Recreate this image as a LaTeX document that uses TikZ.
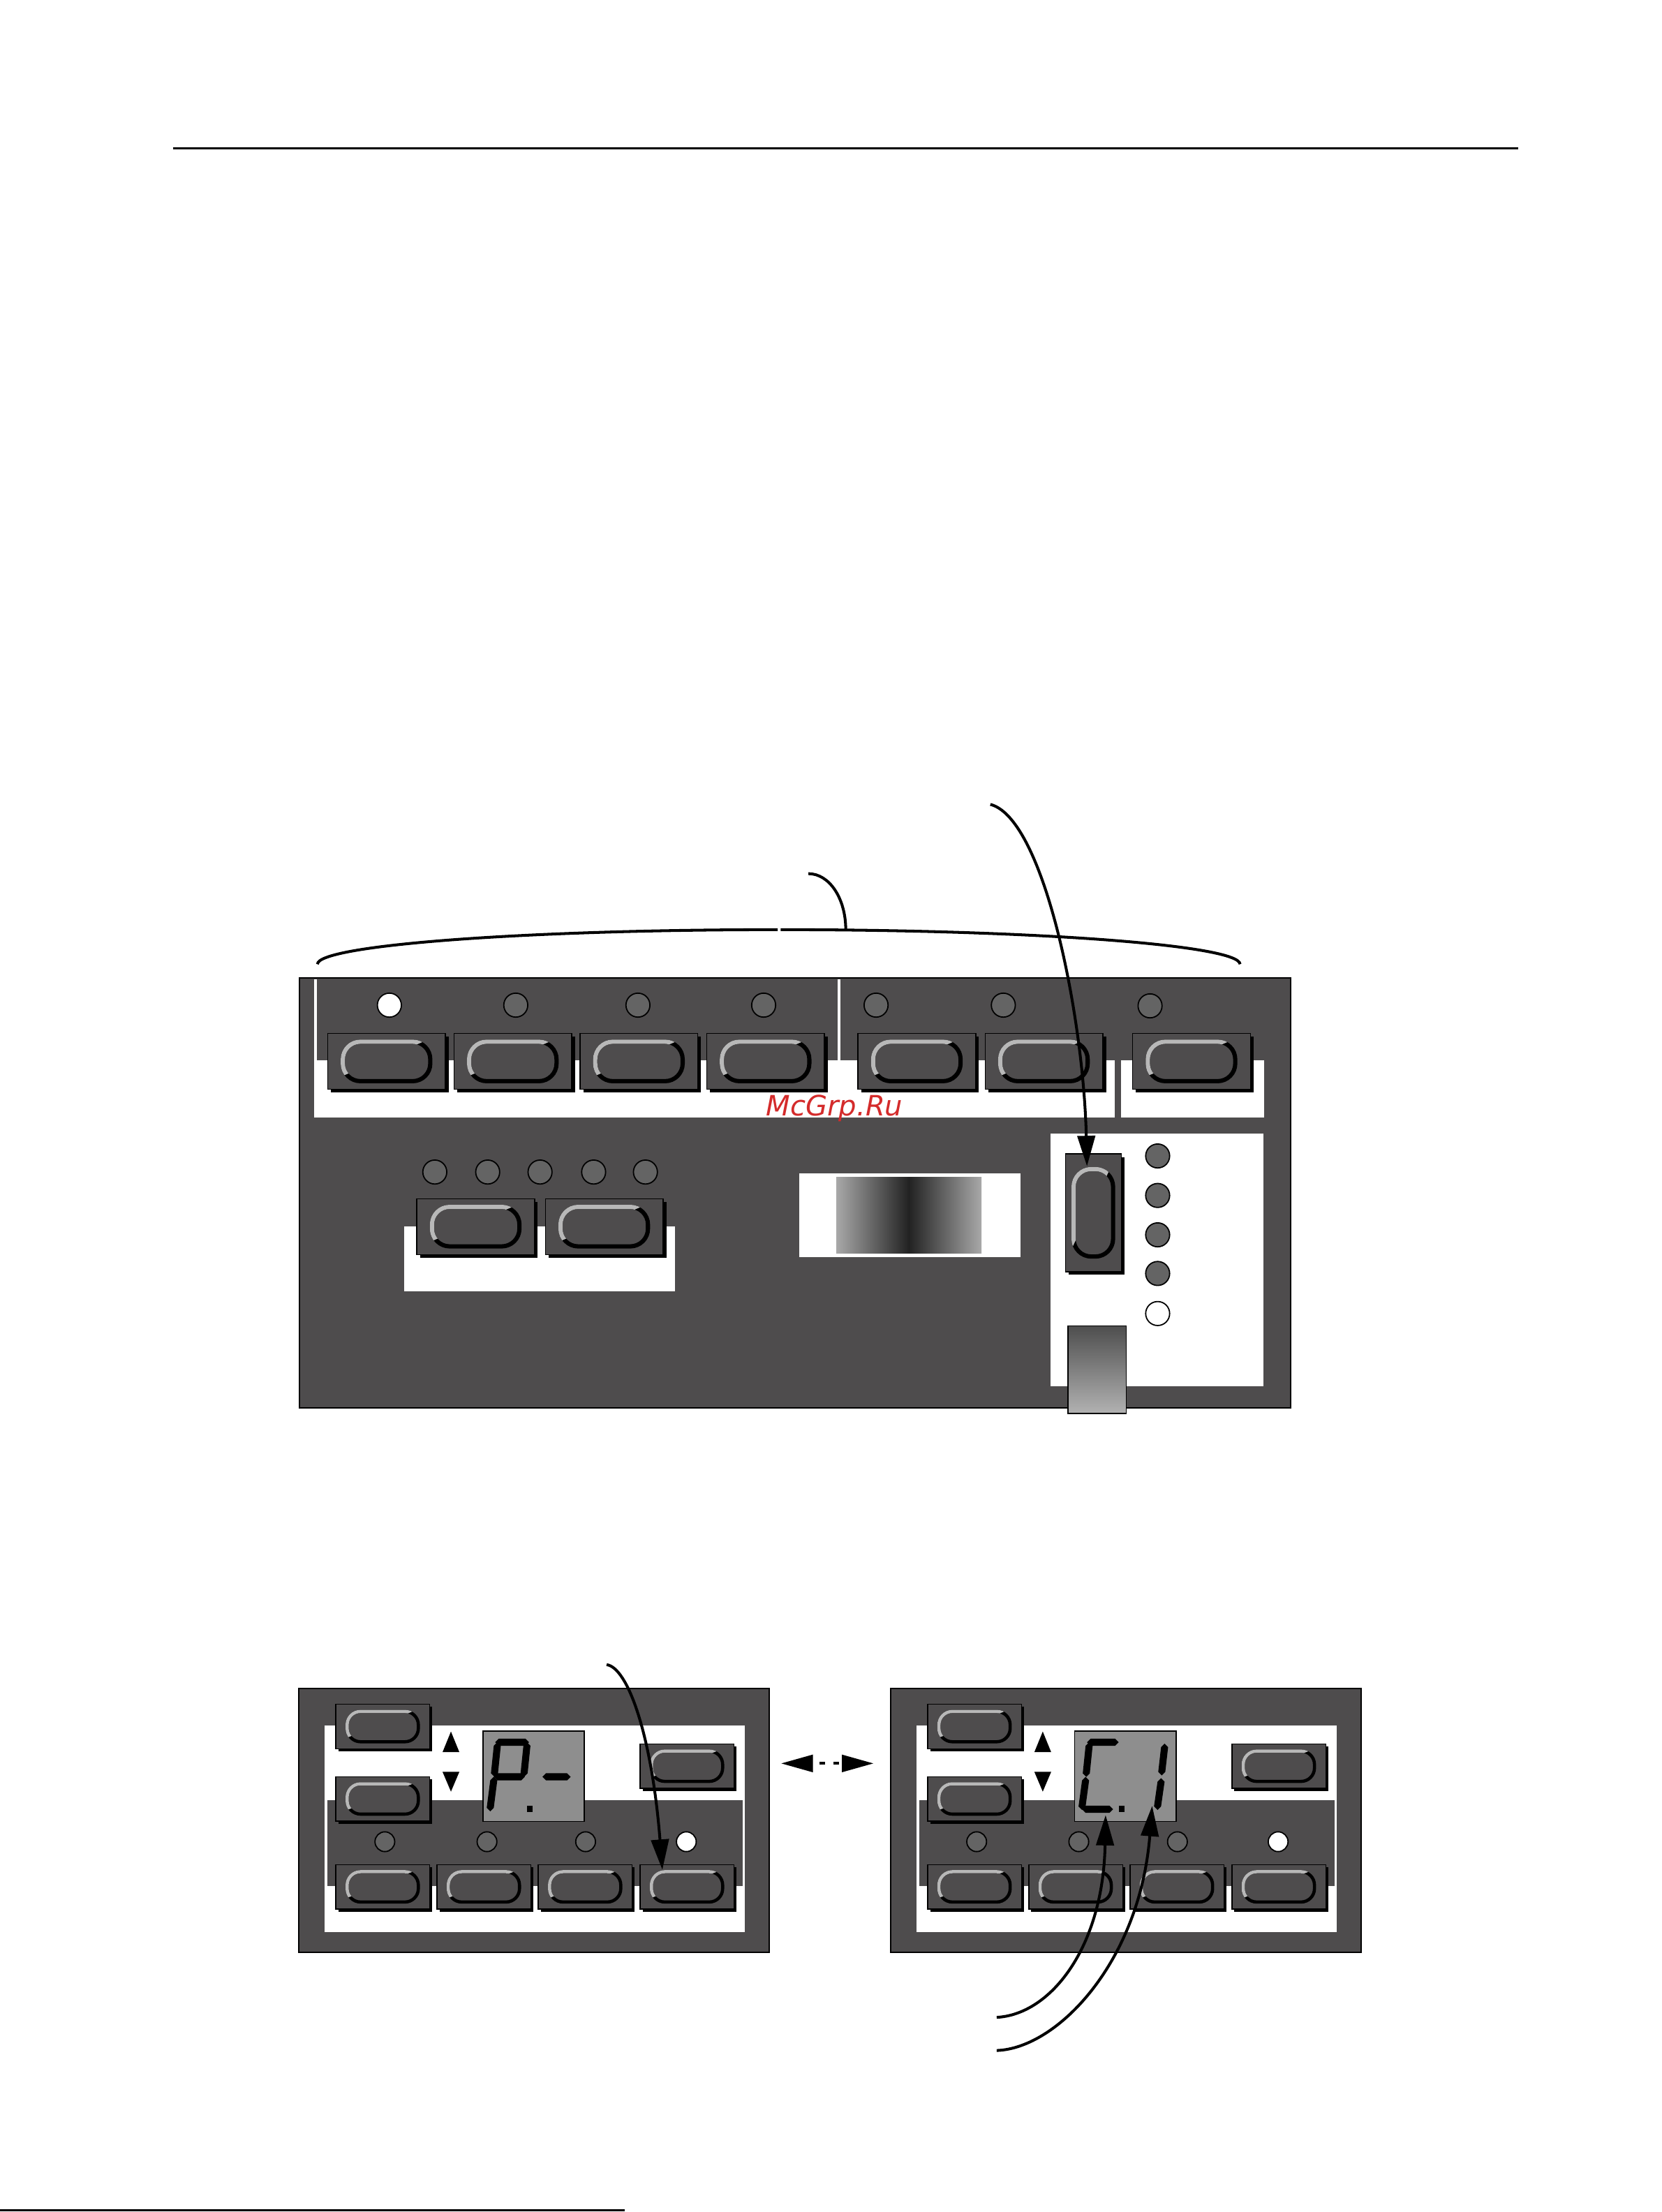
\documentclass[tikz,border=0pt]{standalone}
\usepackage{fontspec}
\usepackage{xcolor}
\usepackage{tikz}
\definecolor{panelGrey}{HTML}{4E4C4D}
\definecolor{ledGrey}{HTML}{646464}
\definecolor{rimGrey}{HTML}{B8B8B8}
\definecolor{lcdGrey}{HTML}{8E8E8E}
\definecolor{bandDark}{HTML}{222222}
\definecolor{bandLight}{HTML}{A8A8A8}
\definecolor{slideDark}{HTML}{4E4E4E}
\definecolor{slideLight}{HTML}{B2B2B2}
\definecolor{markRed}{HTML}{D42B2B}
\newfontfamily\markfont{DejaVu Sans}
\usetikzlibrary{arrows.meta,shadows}

% rim of a key: half width, half height, corner radius, line width (cm)
\newcommand{\keyrim}[4]{%
  \begin{scope}[shift={(path picture bounding box.center)}, x=1cm, y=1cm]
    \draw[black, line width=#4cm, rounded corners=#3cm] (-#1,-#2) rectangle (#1,#2);
    \clip (-1.48*#1,-1.18*#2) -- (1.3*#1,1.43*#2) -- (-1.6*#1,1.6*#2) -- cycle;
    \draw[rimGrey, line width=#4cm, rounded corners=#3cm] (-#1,-#2) rectangle (#1,#2);
  \end{scope}}
% seven segment pieces: horizontal (x1,x2,y) and slanted vertical (top x,y, bottom x,y)
\newcommand{\hseg}[3]{\fill (#1,#3) -- (#1+2.5,#3-2.5) -- (#2-2.5,#3-2.5) -- (#2,#3) -- (#2-2.5,#3+2.5) -- (#1+2.5,#3+2.5) -- cycle;}
\newcommand{\vseg}[4]{\fill (#1,#2) -- (#1+2.5,#2+2.5) -- (#3+2.5,#4-2.5) -- (#3,#4) -- (#3-2.5,#4-2.5) -- (#1-2.5,#2+2.5) -- cycle;}

\begin{document}
\begin{tikzpicture}[
  x=0.02cm, y=-0.02cm,
  panel/.style={rectangle, draw=black, line width=0.6pt, fill=panelGrey, inner sep=0pt},
  keycap/.style={rectangle, draw=black, line width=0.4pt, fill=panelGrey, inner sep=0pt, general shadow={fill=black, shadow xshift=#1, shadow yshift=-#1}},
  bigkey/.style={keycap=0.045cm, minimum width=1.67cm, minimum height=0.79cm, path picture={\keyrim{0.62}{0.28}{0.25}{0.06}}},
  smallkey/.style={keycap=0.035cm, minimum width=1.33cm, minimum height=0.63cm, path picture={\keyrim{0.505}{0.215}{0.19}{0.045}}},
  tallkey/.style={keycap=0.045cm, minimum width=0.79cm, minimum height=1.67cm, path picture={\keyrim{0.28}{0.62}{0.25}{0.06}}},
  led/.style={circle, draw=black, line width=0.5pt, fill=ledGrey, minimum size=0.34cm, inner sep=0pt},
  ledon/.style={led, fill=white},
  smallled/.style={led, minimum size=0.28cm},
  smallledon/.style={smallled, fill=white},
  lcd/.style={rectangle, draw=black, line width=0.5pt, fill=lcdGrey, minimum width=1.44cm, minimum height=1.28cm, inner sep=0pt},
  lead/.style={line width=0.04cm, black},
  pointer/.style={lead, -{Triangle[length=0.43cm, width=0.25cm]}},
  swapline/.style={lead, dash pattern=on 0.08cm off 0.12cm, dash phase=0.1cm, {Triangle[length=0.45cm, width=0.24cm]}-{Triangle[length=0.45cm, width=0.24cm]}}
]
\useasboundingbox (0,0) rectangle (1178,1568);

% Page rules
\draw[line width=0.03cm] (122.5,105.3) -- (1076,105.3);
\draw[line width=0.03cm] (0,1566.8) -- (443,1566.8);

% Main panel
\node[panel, minimum width=14.06cm, minimum height=6.1cm] (mainpanel) at (563.5,845.5) {};
\fill[white] (222.5,694) rectangle (790,792);
\fill[white] (794.6,751.4) rectangle (896,792);
\fill[panelGrey] (224.5,694) rectangle (593.5,751.4);
\fill[panelGrey] (595.5,694) rectangle (790.5,751.4);
\fill[white] (286.6,869.2) rectangle (478.6,915.6);
\fill[white] (566.5,831.8) rectangle (723.4,891.1);
\shade[left color=bandLight, right color=bandDark] (592.8,834.7) rectangle (644.4,888.2);
\shade[left color=bandDark, right color=bandLight] (644.2,834.7) rectangle (695.7,888.2);
\fill[white] (744.7,803.6) rectangle (895.6,982.5);
\draw[line width=0.4pt, top color=slideDark, bottom color=slideLight] (757,939.8) rectangle (798.3,1002);

% Top row of keys and lamps
\node[ledon] (lamp1) at (276,712.5) {};
\node[led] (lamp2) at (365.6,712.5) {};
\node[led] (lamp3) at (452.2,712.5) {};
\node[led] (lamp4) at (541.3,712.5) {};
\node[led] (lamp5) at (621,712.5) {};
\node[led] (lamp6) at (711.2,712.5) {};
\node[led] (lamp7) at (815.2,713) {};
\node[bigkey] (key1) at (274,752.4) {};
\node[bigkey] (key2) at (363.5,752.4) {};
\node[bigkey] (key3) at (452.9,752.4) {};
\node[bigkey] (key4) at (542.7,752.4) {};
\node[bigkey] (key5) at (649.9,752.4) {};
\node[bigkey] (key6) at (740,752.4) {};
\node[bigkey] (key7) at (844.6,752.4) {};

% Lower left keys and lamps
\node[led] (dot1) at (308.2,830.8) {};
\node[led] (dot2) at (345.7,830.8) {};
\node[led] (dot3) at (382.8,830.8) {};
\node[led] (dot4) at (420.8,830.8) {};
\node[led] (dot5) at (457.5,830.8) {};
\node[bigkey] (keyA) at (337.2,869.5) {};
\node[bigkey] (keyB) at (428.3,869.5) {};

% Selector key and its lamps
\node[tallkey] (vkey) at (775,859.7) {};
\node[led] (sel1) at (820.6,819.4) {};
\node[led] (sel2) at (820.6,847.4) {};
\node[led] (sel3) at (820.6,875.3) {};
\node[led] (sel4) at (820.6,902.7) {};
\node[ledon] (sel5) at (820.6,931.1) {};

% Brace over the key rows
\draw[lead] (225,683.5) .. controls (225,670) and (371,659) .. (551.2,659);
\draw[lead] (553.4,659) .. controls (733,659) and (879,670) .. (879,683.5);
\coordinate (bracetop) at (599.5,659);
\coordinate (groupfree) at (573,619.3);
\draw[lead] (bracetop) .. controls (599.5,637) and (588,619.3) .. (groupfree);

% Arrow to selector key
\coordinate (selfree) at (702,570.2);
\draw[pointer] (selfree) .. controls (740,580) and (768,720) .. ([xshift=-0.09cm,yshift=-0.18cm]vkey.north);

% Left small panel
\node[panel, minimum width=6.67cm, minimum height=3.74cm] (leftpanel) at (378.45,1290.5) {};
\fill[white] (230.3,1223) rectangle (528,1369.6);
\fill[panelGrey] (232.2,1276) rectangle (526.6,1336.8);
\node[smallkey] (lup) at (271.3,1223.9) {};
\node[smallkey] (ldown) at (271.3,1275.2) {};
\node[smallkey] (lset) at (487,1252) {};
\fill (313.7,1242) -- (325.6,1242) -- (319.65,1227.4) -- cycle;
\fill (313.7,1256) -- (325.6,1256) -- (319.65,1270) -- cycle;
\node[lcd] (llcd) at (378.2,1259.2) {};
\hseg{351}{375}{1235}
\vseg{352.5}{1235}{350.5}{1259.5}
\vseg{373.5}{1235}{371.5}{1259.5}
\hseg{350}{372}{1259.5}
\vseg{350}{1259.5}{347.5}{1284}
\fill (373.6,1280) rectangle (377.7,1284.5);
\hseg{384.5}{404.5}{1259.5}
\node[smallled] (ll1) at (272.8,1305.5) {};
\node[smallled] (ll2) at (345.2,1305.5) {};
\node[smallled] (ll3) at (415.1,1305.5) {};
\node[smallledon] (ll4) at (486.5,1305.5) {};
\node[smallkey] (lk1) at (271.3,1337.5) {};
\node[smallkey] (lk2) at (343,1337.5) {};
\node[smallkey] (lk3) at (414.8,1337.5) {};
\node[smallkey] (lk4) at (487,1337.5) {};

% Right small panel
\node[panel, minimum width=6.67cm, minimum height=3.74cm] (rightpanel) at (797.95,1290.5) {};
\fill[white] (649.8,1223) rectangle (947.5,1369.6);
\fill[panelGrey] (651.7,1276) rectangle (946.1,1336.8);
\node[smallkey] (rup) at (690.8,1223.9) {};
\node[smallkey] (rdown) at (690.8,1275.2) {};
\node[smallkey] (rset) at (906.5,1252) {};
\fill (733.2,1242) -- (745.1,1242) -- (739.15,1227.4) -- cycle;
\fill (733.2,1256) -- (745.1,1256) -- (739.15,1270) -- cycle;
\node[lcd] (rlcd) at (797.7,1259.2) {};
\hseg{770.5}{793}{1235}
\vseg{772}{1235}{770}{1259.5}
\vseg{769.5}{1259.5}{767}{1283}
\hseg{767}{789}{1282.5}
\fill (793.2,1280) rectangle (797.3,1284.5);
\vseg{825.5}{1236}{823.5}{1258.5}
\vseg{823}{1260.5}{820.5}{1283}
\node[smallled] (rl1) at (692.3,1305.5) {};
\node[smallled] (rl2) at (764.7,1305.5) {};
\node[smallled] (rl3) at (834.6,1305.5) {};
\node[smallledon] (rl4) at (906,1305.5) {};
\node[smallkey] (rk1) at (690.8,1337.5) {};
\node[smallkey] (rk2) at (762.5,1337.5) {};
\node[smallkey] (rk3) at (834.3,1337.5) {};
\node[smallkey] (rk4) at (906.5,1337.5) {};

% Arrows of the small panels
\coordinate (lfree) at (430,1180);
\draw[pointer] (lfree) .. controls (445,1182) and (462,1230) .. ([xshift=-0.35cm,yshift=-0.08cm]lk4.north);
\draw[swapline] ([xshift=0.16cm,yshift=0.81cm]leftpanel.east) -- ([xshift=-0.23cm,yshift=0.81cm]rightpanel.west);
\coordinate (cfree) at (706.5,1430);
\coordinate (dfree) at (706.5,1453.5);
\draw[pointer] (cfree) .. controls (745,1428) and (782,1380) .. ([xshift=-0.28cm,yshift=0.1cm]rlcd.south);
\draw[pointer] (dfree) .. controls (750,1452) and (808,1390) .. ([xshift=0.38cm,yshift=0.23cm]rlcd.south);

% Watermark
\node[text=markRed, font=\markfont\itshape\fontsize{11.3pt}{13pt}\selectfont, anchor=base west, inner sep=0pt] (mark) at (542.7,791) {McGrp.Ru};

\end{tikzpicture}
\end{document}
